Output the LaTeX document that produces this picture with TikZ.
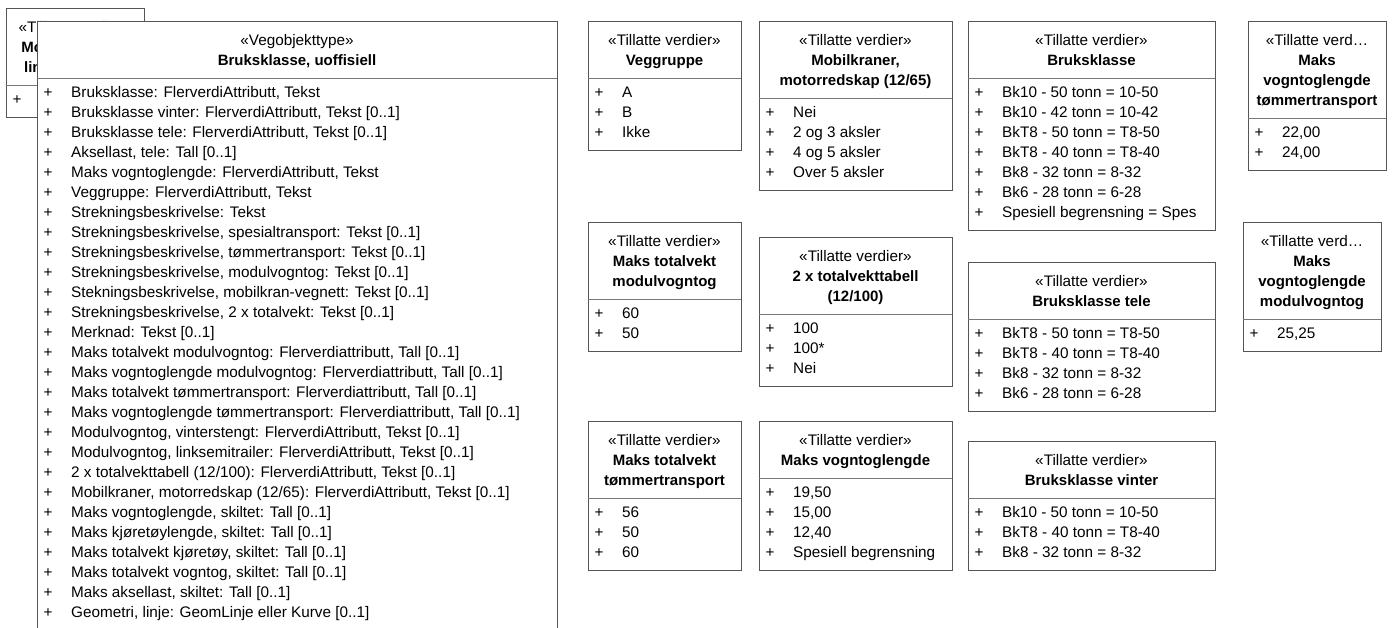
\documentclass[tikz,border=0pt]{standalone}
\usepackage{fontspec}
\setmainfont{Liberation Sans}
\definecolor{bordercol}{RGB}{85,85,85}
\definecolor{divcol}{RGB}{120,120,120}
\tikzset{
  boxline/.style={draw=bordercol, line width=1pt, fill=white},
  divline/.style={draw=divcol, line width=1pt},
  stereo/.style={anchor=base, inner sep=0pt, font=\fontsize{15.3}{18}\selectfont},
  hname/.style={anchor=base, inner sep=0pt, font=\fontsize{15}{18}\selectfont\bfseries},
  plus/.style={anchor=base, inner sep=0pt, font=\fontsize{15.3}{18}\selectfont},
  itemtext/.style={anchor=base west, inner sep=0pt, font=\fontsize{15.3}{18}\selectfont},
}
% #1 name, #2 left, #3 right, #4 top, #5 header lines, #6 items
\newcommand\umlbox[6]{%
  \foreach \t [count=\i] in {#5} {\xdef\umlnh{\i}}%
  \foreach \t [count=\i] in {#6} {\xdef\umlni{\i}}%
  \pgfmathsetmacro\umldv{#4+17+20*\umlnh}%
  \pgfmathsetmacro\umlbt{\umldv+12+20*\umlni}%
  \pgfmathsetmacro\umlcx{(#2+#3)/2}%
  \draw[boxline] (#2,#4) rectangle (#3,\umlbt);
  \draw[divline] (#2,\umldv) -- (#3,\umldv);
  \foreach \t [count=\i] in {#5} {%
    \pgfmathsetmacro\umlyy{#4+24+20*(\i-1)}%
    \ifnum\i=1
      \node[stereo] (#1-h\i) at (\umlcx,\umlyy) {\t};
    \else
      \node[hname] (#1-h\i) at (\umlcx,\umlyy) {\t};
    \fi
  }
  \foreach \t [count=\i] in {#6} {%
    \pgfmathsetmacro\umlyy{\umldv+14+20*(\i-1)+5}%
    \node[plus] (#1-p\i) at (#2+11,\umlyy) {+};
    \node[itemtext] (#1-i\i) at (#2+34,\umlyy) {\t};
  }
}
\begin{document}
\begin{tikzpicture}[x=1pt,y=-1pt]
\useasboundingbox (0,0) rectangle (1394,627);
\clip (0,0) rectangle (1394,627);
\fill[white] (0,0) rectangle (1394,627);

% hidden box behind the main class
\umlbox{hid}{6}{144}{8}{{«Tillatte verdier»},{Modulvogntog,},{linksemitrailer}}{{\strut}}

% main class
\umlbox{main}{37}{557}{21}{{«Vegobjekttype»},{Bruksklasse, uoffisiell}}{%
{Bruksklasse: FlerverdiAttributt, Tekst},
{Bruksklasse vinter: FlerverdiAttributt, Tekst [0..1]},
{Bruksklasse tele: FlerverdiAttributt, Tekst [0..1]},
{Aksellast, tele: Tall [0..1]},
{Maks vogntoglengde: FlerverdiAttributt, Tekst},
{Veggruppe: FlerverdiAttributt, Tekst},
{Strekningsbeskrivelse: Tekst},
{Strekningsbeskrivelse, spesialtransport: Tekst [0..1]},
{Strekningsbeskrivelse, tømmertransport: Tekst [0..1]},
{Strekningsbeskrivelse, modulvogntog: Tekst [0..1]},
{Stekningsbeskrivelse, mobilkran-vegnett: Tekst [0..1]},
{Strekningsbeskrivelse, 2 x totalvekt: Tekst [0..1]},
{Merknad: Tekst [0..1]},
{Maks totalvekt modulvogntog: Flerverdiattributt, Tall [0..1]},
{Maks vogntoglengde modulvogntog: Flerverdiattributt, Tall [0..1]},
{Maks totalvekt tømmertransport: Flerverdiattributt, Tall [0..1]},
{Maks vogntoglengde tømmertransport: Flerverdiattributt, Tall [0..1]},
{Modulvogntog, vinterstengt: FlerverdiAttributt, Tekst [0..1]},
{Modulvogntog, linksemitrailer: FlerverdiAttributt, Tekst [0..1]},
{2 x totalvekttabell (12/100): FlerverdiAttributt, Tekst [0..1]},
{Mobilkraner, motorredskap (12/65): FlerverdiAttributt, Tekst [0..1]},
{Maks vogntoglengde, skiltet: Tall [0..1]},
{Maks kjøretøylengde, skiltet: Tall [0..1]},
{Maks totalvekt kjøretøy, skiltet: Tall [0..1]},
{Maks totalvekt vogntog, skiltet: Tall [0..1]},
{Maks aksellast, skiltet: Tall [0..1]},
{Geometri, linje: GeomLinje eller Kurve [0..1]}}

% column 1
\umlbox{veg}{588}{741}{21}{{«Tillatte verdier»},{Veggruppe}}{{A},{B},{Ikke}}
\umlbox{mtm}{588}{741}{222}{{«Tillatte verdier»},{Maks totalvekt},{modulvogntog}}{{60},{50}}
\umlbox{mtt}{588}{741}{421}{{«Tillatte verdier»},{Maks totalvekt},{tømmertransport}}{{56},{50},{60}}

% column 2
\umlbox{mob}{759}{952}{21}{{«Tillatte verdier»},{Mobilkraner,},{motorredskap (12/65)}}{{Nei},{2 og 3 aksler},{4 og 5 aksler},{Over 5 aksler}}
\umlbox{tot}{759}{952}{237}{{«Tillatte verdier»},{2 x totalvekttabell},{(12/100)}}{{100},{100*},{Nei}}
\umlbox{mvl}{759}{952}{421}{{«Tillatte verdier»},{Maks vogntoglengde}}{{19,50},{15,00},{12,40},{Spesiell begrensning}}

% column 3
\umlbox{bk}{968}{1215}{21}{{«Tillatte verdier»},{Bruksklasse}}{{Bk10 - 50 tonn = 10-50},{Bk10 - 42 tonn = 10-42},{BkT8 - 50 tonn = T8-50},{BkT8 - 40 tonn = T8-40},{Bk8 - 32 tonn = 8-32},{Bk6 - 28 tonn = 6-28},{Spesiell begrensning = Spes}}
\umlbox{bkt}{968}{1215}{262}{{«Tillatte verdier»},{Bruksklasse tele}}{{BkT8 - 50 tonn = T8-50},{BkT8 - 40 tonn = T8-40},{Bk8 - 32 tonn = 8-32},{Bk6 - 28 tonn = 6-28}}
\umlbox{bkv}{968}{1215}{441}{{«Tillatte verdier»},{Bruksklasse vinter}}{{Bk10 - 50 tonn = 10-50},{BkT8 - 40 tonn = T8-40},{Bk8 - 32 tonn = 8-32}}

% column 4
\umlbox{mvt}{1248}{1386}{21}{{«Tillatte verd…},{Maks},{vogntoglengde},{tømmertransport}}{{22,00},{24,00}}
\umlbox{mvm}{1243}{1381}{222}{{«Tillatte verd…},{Maks},{vogntoglengde},{modulvogntog}}{{25,25}}
\end{tikzpicture}
\end{document}
